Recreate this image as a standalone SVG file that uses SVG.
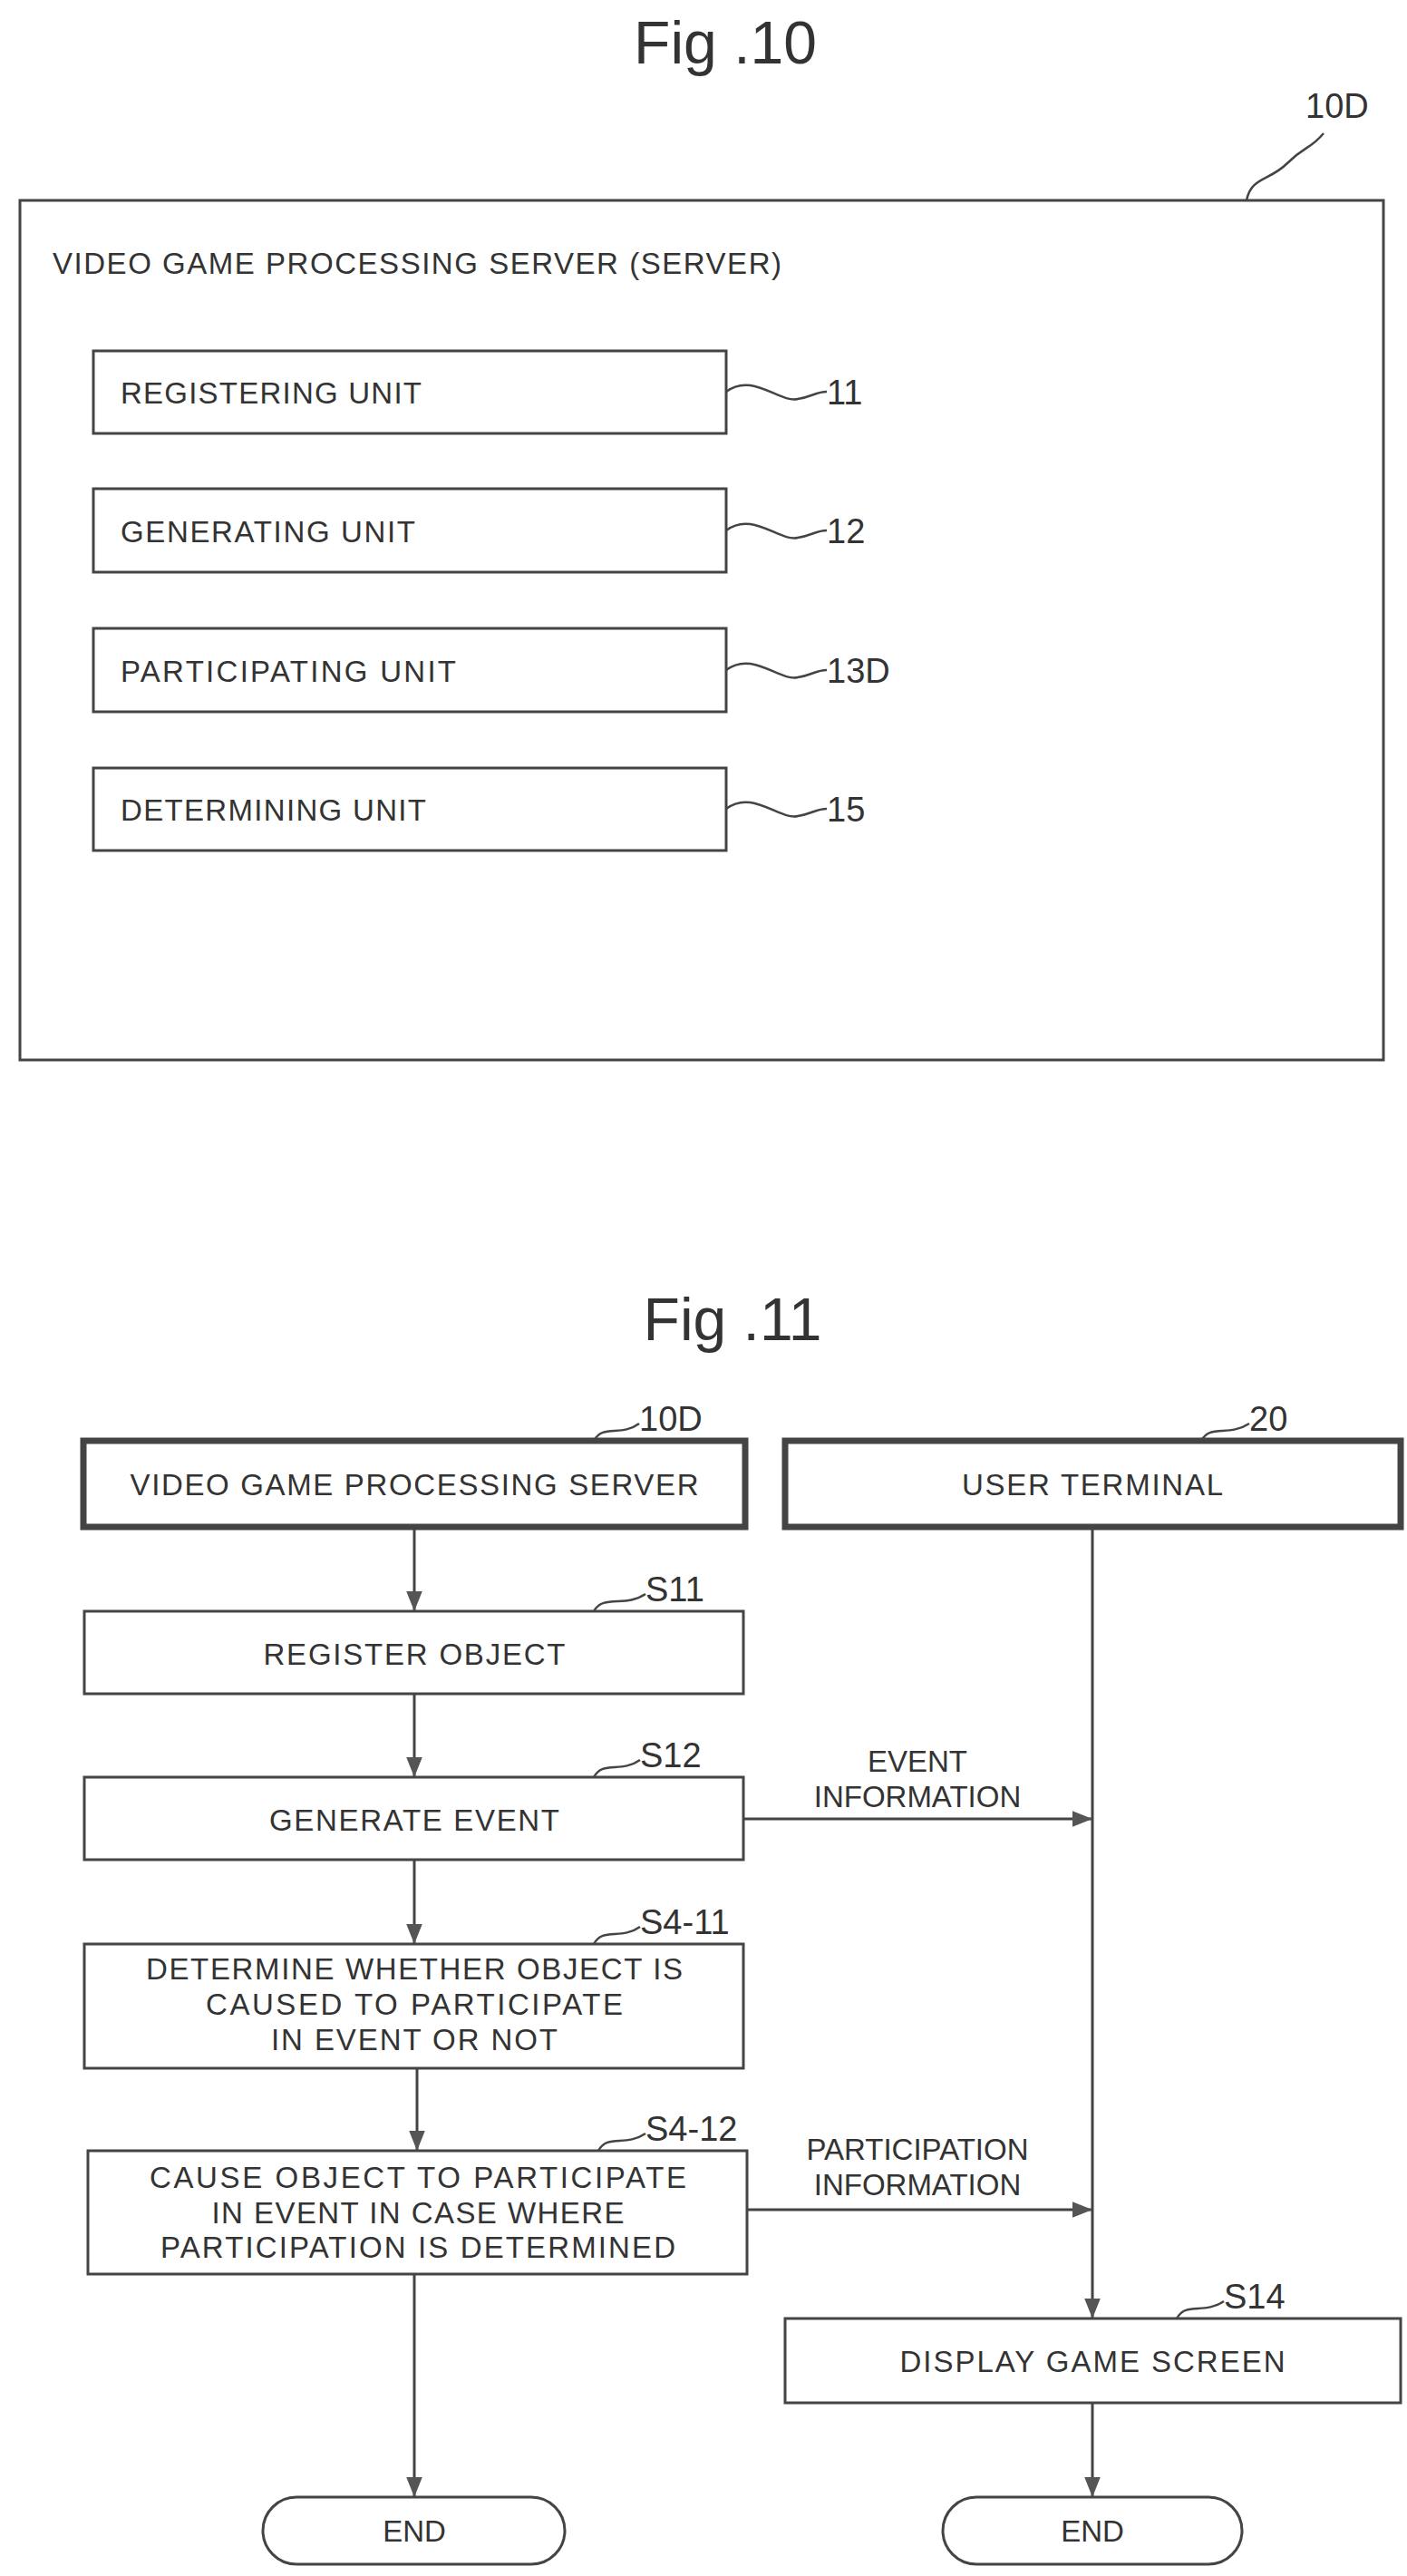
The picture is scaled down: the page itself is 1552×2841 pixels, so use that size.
<svg xmlns="http://www.w3.org/2000/svg" width="1552" height="2841" viewBox="0 0 1552 2841">
<defs>
<style>
.b{fill:#fff;stroke:#444;stroke-width:3}
.tb{fill:#fff;stroke:#444;stroke-width:7}
.t{font-family:"Liberation Sans",Arial,sans-serif;font-size:33px;fill:#333}
.c{text-anchor:middle}
.ti{font-family:"Liberation Sans",Arial,sans-serif;font-size:66px;fill:#333;text-anchor:middle}
.l{fill:none;stroke:#444;stroke-width:3}
.s{fill:none;stroke:#444;stroke-width:2.5}
</style>
<marker id="a" viewBox="0 0 10 10" refX="10" refY="5" markerWidth="8" markerHeight="8" markerUnits="userSpaceOnUse" orient="auto"><path d="M0,0L10,5L0,10z" fill="#444"/></marker>
<marker id="A" viewBox="0 0 10 10" refX="10" refY="5" markerWidth="22" markerHeight="22" markerUnits="userSpaceOnUse" orient="auto"><path d="M0,1L10,5L0,9z" fill="#555"/></marker>
</defs>
<rect width="1552" height="2841" fill="#fff"/>
<g id="fig10">
<text class="ti" x="800" y="70">Fig .10</text>
<g id="server10"><rect class="b" x="22" y="221" width="1504" height="948"/>
<text class="t" x="58" y="302" textLength="804">VIDEO GAME PROCESSING SERVER (SERVER)</text>
<path class="s" d="M1375,221 C1380,195 1400,200 1420,180 C1440,160 1445,165 1460,147"/>
<text class="t" x="1440" y="130" style="font-size:38px">10D</text></g>
<g id="u11"><rect class="b" x="103" y="387" width="698" height="91"/><text class="t" x="133" y="445" textLength="332">REGISTERING UNIT</text>
<path class="s" d="M801,432 C830,410 860,445 880,440 C895,438 900,432 912,432"/><text class="t" x="912" y="446" style="font-size:38px">11</text></g>
<g id="u12"><rect class="b" x="103" y="539" width="698" height="92"/><text class="t" x="133" y="598" textLength="325">GENERATING UNIT</text>
<path class="s" d="M801,585 C830,563 860,598 880,593 C895,591 900,585 912,585"/><text class="t" x="912" y="599" style="font-size:38px">12</text></g>
<g id="u13"><rect class="b" x="103" y="693" width="698" height="92"/><text class="t" x="133" y="752" textLength="370">PARTICIPATING UNIT</text>
<path class="s" d="M801,739 C830,717 860,752 880,747 C895,745 900,739 912,739"/><text class="t" x="912" y="753" style="font-size:38px">13D</text></g>
<g id="u15"><rect class="b" x="103" y="847" width="698" height="91"/><text class="t" x="133" y="905" textLength="337">DETERMINING UNIT</text>
<path class="s" d="M801,892 C830,870 860,905 880,900 C895,898 900,892 912,892"/><text class="t" x="912" y="906" style="font-size:38px">15</text></g>
</g>
<g id="fig11">
<text class="ti" x="808" y="1478">Fig .11</text>
<g id="connectors">
<path class="l" marker-end="url(#A)" d="M457,1684V1777"/>
<path class="l" marker-end="url(#A)" d="M457,1868V1960"/>
<path class="l" marker-end="url(#A)" d="M457,2051V2144"/>
<path class="l" marker-end="url(#A)" d="M460,2281V2372"/>
<path class="l" marker-end="url(#A)" d="M457,2508V2754"/>
<path class="l" marker-end="url(#A)" d="M1205,1684V2557"/>
<path class="l" marker-end="url(#A)" d="M1205,2650V2754"/>
<path class="l" marker-end="url(#A)" d="M820,2006H1205"/>
<path class="l" marker-end="url(#A)" d="M824,2437H1205"/>
<text class="t c" x="1012" y="1954">EVENT</text>
<text class="t c" x="1012" y="1993">INFORMATION</text>
<text class="t c" x="1012" y="2382">PARTICIPATION</text>
<text class="t c" x="1012" y="2421">INFORMATION</text>
</g>
<g id="srv"><rect class="tb" x="92" y="1589" width="730" height="95"/><text class="t c" x="457" y="1649" textLength="627">VIDEO GAME PROCESSING SERVER</text>
<path class="s" d="M655,1589 C665,1570 685,1585 705,1570"/><text class="t" x="705" y="1578" style="font-size:38px">10D</text></g>
<g id="ut"><rect class="tb" x="866" y="1589" width="679" height="95"/><text class="t c" x="1205" y="1649" textLength="288">USER TERMINAL</text>
<path class="s" d="M1325,1589 C1335,1570 1355,1585 1378,1570"/><text class="t" x="1378" y="1578" style="font-size:38px">20</text></g>
<g id="s11"><rect class="b" x="93" y="1777" width="727" height="91"/><text class="t c" x="457" y="1836" textLength="333">REGISTER OBJECT</text>
<path class="s" d="M655,1777 C665,1758 690,1773 712,1758"/><text class="t" x="712" y="1766" style="font-size:38px">S11</text></g>
<g id="s12"><rect class="b" x="93" y="1960" width="727" height="91"/><text class="t c" x="457" y="2019" textLength="320">GENERATE EVENT</text>
<path class="s" d="M655,1960 C665,1941 685,1956 706,1941"/><text class="t" x="706" y="1949" style="font-size:38px">S12</text></g>
<g id="s411"><rect class="b" x="93" y="2144" width="727" height="137"/>
<text class="t c" x="457" y="2183" textLength="592">DETERMINE WHETHER OBJECT IS</text>
<text class="t c" x="457" y="2222" textLength="460">CAUSED TO PARTICIPATE</text>
<text class="t c" x="457" y="2261" textLength="316">IN EVENT OR NOT</text>
<path class="s" d="M655,2144 C665,2125 685,2140 706,2125"/><text class="t" x="706" y="2133" style="font-size:38px">S4-11</text></g>
<g id="s412"><rect class="b" x="97" y="2372" width="727" height="136"/>
<text class="t c" x="461" y="2413" textLength="592">CAUSE OBJECT TO PARTICIPATE</text>
<text class="t c" x="461" y="2452" textLength="455">IN EVENT IN CASE WHERE</text>
<text class="t c" x="461" y="2490" textLength="568">PARTICIPATION IS DETERMINED</text>
<path class="s" d="M660,2372 C670,2353 690,2368 712,2353"/><text class="t" x="712" y="2361" style="font-size:38px">S4-12</text></g>
<g id="s14"><rect class="b" x="866" y="2557" width="679" height="93"/><text class="t c" x="1205" y="2616" textLength="425">DISPLAY GAME SCREEN</text>
<path class="s" d="M1298,2557 C1308,2538 1328,2553 1350,2538"/><text class="t" x="1350" y="2546" style="font-size:38px">S14</text></g>
<g id="end1"><rect class="b" x="290" y="2754" width="333" height="74" rx="37"/><text class="t c" x="457" y="2803">END</text></g>
<g id="end2"><rect class="b" x="1040" y="2754" width="330" height="74" rx="37"/><text class="t c" x="1205" y="2803">END</text></g>
</g>
</svg>
